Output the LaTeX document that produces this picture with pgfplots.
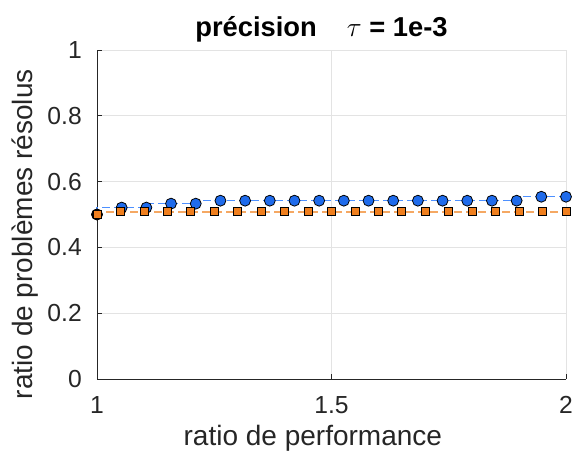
\documentclass[border=0pt]{standalone}
\usepackage{pgfplots}
\pgfplotsset{compat=1.18}
\usepackage{fontspec}
\setmainfont{Liberation Sans}
\definecolor{bluefill}{HTML}{1F6BEB}
\definecolor{blueline}{HTML}{4D90FF}
\definecolor{orfill}{HTML}{F07F1E}
\definecolor{orline}{HTML}{F5A863}
\definecolor{axc}{HTML}{262626}
\definecolor{gridc}{HTML}{E3E3E3}
\begin{document}
\begin{tikzpicture}
\begin{axis}[
  at={(0,0)}, anchor=south west,
  scale only axis, width=351.75pt, height=246.75pt,
  xmin=1, xmax=2, ymin=0, ymax=1,
  enlargelimits=false,
  axis lines=left,
  axis line style={-, draw=axc, line width=0.6pt},
  xtick={1,1.5,2}, ytick={0,0.2,0.4,0.6,0.8,1},
  tick align=inside, major tick length=3.75pt,
  tick style={draw=axc, line width=0.6pt},
  grid=major, major grid style={draw=gridc, line width=0.6pt},
  /pgf/number format/assume math mode=true,
  tick label style={font=\fontsize{18.5}{18.5}\selectfont, text=axc},
  xticklabel style={anchor=base, inner sep=0pt, yshift=-25.5pt},
  yticklabel style={anchor=east, inner sep=0pt, xshift=-11.25pt},
  clip=false,
]
\addplot[const plot mark right, draw=blueline, line width=1.1pt, dash pattern=on 6pt off 3pt,
  mark=*, mark size=4.1pt, mark options={solid, fill=bluefill, draw=black, line width=0.6pt}]
coordinates {
(1,0.5) (1.05263,0.521) (1.10526,0.521) (1.15789,0.533) (1.21053,0.533)
(1.26316,0.542) (1.31579,0.542) (1.36842,0.542) (1.42105,0.542) (1.47368,0.542)
(1.52632,0.542) (1.57895,0.542) (1.63158,0.542) (1.68421,0.542) (1.73684,0.542)
(1.78947,0.542) (1.84211,0.542) (1.89474,0.542) (1.94737,0.554) (2,0.554)
};
\addplot[only marks, mark=*, mark size=4.1pt, mark options={fill=black, draw=black}]
coordinates {(1,0.5)};
\addplot[const plot mark right, draw=orline, line width=1.1pt, dash pattern=on 6pt off 3pt,
  mark=square*, mark size=3pt, mark options={solid, fill=orfill, draw=black, line width=0.6pt}]
coordinates {
(1,0.5) (1.05,0.508) (1.1,0.508) (1.15,0.508) (1.2,0.508) (1.25,0.508) (1.3,0.508)
(1.35,0.508) (1.4,0.508) (1.45,0.508) (1.5,0.508) (1.55,0.508) (1.6,0.508)
(1.65,0.508) (1.7,0.508) (1.75,0.508) (1.8,0.508) (1.85,0.508) (1.9,0.508)
(1.95,0.508) (2,0.508)
};
\node[font=\bfseries\fontsize{20.5}{20.5}\selectfont, anchor=base, text=black]
  at ([xshift=-7.5pt, yshift=9.75pt]rel axis cs:0.5,1) {précision\hspace{1.1em}$\tau$ = 1e-3};
\node[font=\fontsize{21}{21}\selectfont, anchor=base, text=axc]
  at ([xshift=-14pt, yshift=-50pt]rel axis cs:0.5,0) {ratio de performance};
\node[font=\fontsize{21}{21}\selectfont, anchor=base, rotate=90, text=axc]
  at ([xshift=-48pt]rel axis cs:0,0.44) {ratio de problèmes résolus};
\end{axis}
\pgfresetboundingbox
\path[use as bounding box] (-72.75pt,-56.25pt) rectangle (357.75pt,284.25pt);
\end{tikzpicture}
\end{document}
